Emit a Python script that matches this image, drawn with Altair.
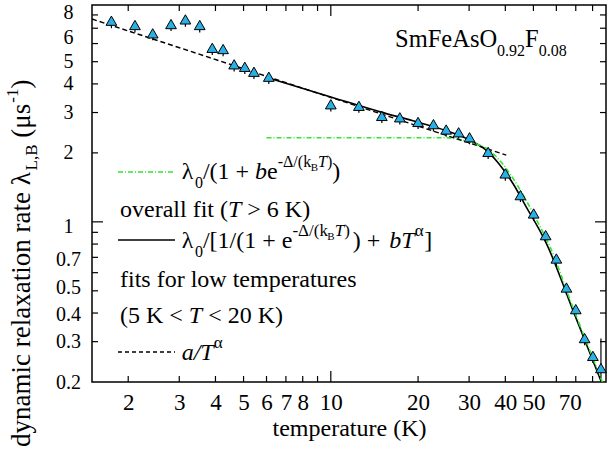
import altair as alt
import pandas as pd

# ---------------- data ----------------
temp = [1.75, 2.11, 2.43, 2.81, 3.15, 3.53, 3.90, 4.25, 4.64, 5.05, 5.43, 6.11,
        10.0, 12.5, 15.0, 17.3, 20.0, 22.6, 25.0, 27.6, 30.1, 34.9, 40.0, 45.1,
        50.1, 55.1, 60.0, 65.0, 70.0, 75.1, 80.2, 85.5]
rate = [7.55, 7.23, 6.65, 7.30, 7.65, 7.23, 5.75, 5.68, 4.87, 4.75, 4.52, 4.30,
        3.26, 3.21, 2.90, 2.86, 2.73, 2.67, 2.53, 2.46, 2.34, 2.02, 1.627, 1.308,
        1.088, 0.875, 0.692, 0.517, 0.416, 0.311, 0.260, 0.230]
err_low = [7.0, 6.7, 6.2, 6.8, 7.1, 6.7, 5.35, 5.28, 4.53, 4.42, 4.2, 4.0,
           3.03, 2.99, 2.70, 2.66, 2.54, 2.48, 2.35, 2.29, 2.18, 1.88, 1.51, 1.22,
           1.01, 0.81, 0.64, 0.48, 0.387, 0.289, 0.242, 0.17]
err_high = [7.55, 7.23, 6.65, 7.30, 7.65, 7.23, 5.75, 5.68, 4.87, 4.75, 4.52, 4.30,
            3.26, 3.21, 2.90, 2.86, 2.73, 2.67, 2.53, 2.46, 2.34, 2.02, 1.627, 1.308,
            1.088, 0.875, 0.692, 0.517, 0.416, 0.311, 0.260, 0.31]

# overall fit (solid)
fit_T = [6.1, 10.0, 14.8, 19.2, 25.0, 30.2, 34.9, 38.3, 42.5, 47.2, 52.5, 55.4, 68.4, 85.8]
fit_L = [4.24, 3.51, 3.02, 2.76, 2.50, 2.27, 2.02, 1.77, 1.47, 1.163, 0.92, 0.805, 0.412, 0.20]
# lambda0/(1 + b e^...) (green dash-dot)
gap_T = [6.0, 20.0, 25.0, 27.6, 31.0, 34.9, 38.6, 42.5, 47.2, 52.8, 56.0, 69.0, 86.5]
gap_L = [2.33, 2.33, 2.33, 2.29, 2.21, 2.07, 1.83, 1.55, 1.24, 0.95, 0.82, 0.412, 0.20]
# a/T^alpha (dashed)
pow_T = [1.5, 40.3]
pow_L = [7.68, 1.956]

x_labels = [2, 3, 4, 5, 6, 7, 8, 10, 20, 30, 40, 50, 70]
y_labels = [0.2, 0.3, 0.4, 0.5, 0.7, 1, 2, 3, 4, 5, 6, 8]
x_minor = [2, 3, 4, 5, 6, 7, 8, 9, 20, 30, 40, 50, 60, 70, 80]
x_major = [10]
y_minor = [0.3, 0.4, 0.5, 0.6, 0.7, 0.8, 0.9, 2, 3, 4, 5, 6, 7, 8]
y_major = [1]

# ---------------- layout ----------------
FONT = "Liberation Serif"
W, H = 514, 377
XS = alt.Scale(type="log", domain=[1.5, 89], nice=False)
YS = alt.Scale(type="log", domain=[0.2, 8.84], nice=False)
BLUE = "#2ab0e4"
GREEN = "#33e633"

pts = pd.DataFrame({"T": temp, "L": rate, "lo": err_low, "hi": err_high})

XAX = alt.Axis(values=x_labels, format="~g", labelFont=FONT, labelFontSize=23,
               labelColor="black", ticks=False, tickSize=0, domain=False, grid=False,
               labelPadding=9, labelOverlap=False, labelFlush=False,
               labelOffset={"condition": [{"test": "datum.value == 70", "value": -6}], "value": 0},
               title="temperature (K)", titleFont=FONT, titleFontSize=24,
               titleFontWeight="normal", titleColor="black", titlePadding=2)
YAX = alt.Axis(values=y_labels, format="~g", labelFont=FONT, labelFontSize=20,
               labelColor="black", ticks=False, tickSize=0, domain=False, grid=False,
               labelPadding=24, labelAlign="center", labelOverlap=False, labelFlush=False,
               labelOffset={"condition": [
                   {"test": "datum.value == 0.5", "value": -3},
                   {"test": "datum.value == 0.4", "value": 1},
                   {"test": "datum.value == 1", "value": 5},
                   {"test": "datum.value == 0.7", "value": 2},
                   {"test": "datum.value == 6", "value": -6},
                   {"test": "datum.value == 8", "value": -2}], "value": 0},
               title="")


def X(field):
    return alt.X(field, scale=XS, axis=XAX, title="temperature (K)")


def Y(field):
    return alt.Y(field, scale=YS, axis=YAX, title="")


errbars = alt.Chart(pts).mark_rule(color="black", strokeWidth=1.2, clip=True).encode(
    x=X("T:Q"), y=Y("lo:Q"), y2="hi:Q",
)

markers = alt.Chart(pts).mark_point(shape="triangle-up", filled=True, fill=BLUE,
                                    stroke="black", strokeWidth=1, size=115,
                                    opacity=1, fillOpacity=1).encode(
    x=X("T:Q"), y=Y("L:Q"),
)


def curve(Ts, Ls, **kw):
    df = pd.DataFrame({"T": Ts, "L": Ls})
    return alt.Chart(df).mark_line(clip=True, **kw).encode(
        x=X("T:Q"), y=Y("L:Q"), order="T:Q",
    )


fit_line = curve(fit_T, fit_L, color="black", strokeWidth=1.6, interpolate="monotone")
gap_line = curve(gap_T, gap_L, color=GREEN, strokeWidth=1.6, strokeDash=[5, 2, 1, 2],
                 interpolate="monotone")
pow_line = curve(pow_T, pow_L, color="black", strokeWidth=1.4, strokeDash=[5, 3])


def ticks_x(vals, length):
    df = pd.DataFrame({"T": vals})
    base = alt.Chart(df).mark_rule(color="black", strokeWidth=1.2)
    bot = base.encode(x=X("T:Q"), y=alt.value(H), y2=alt.value(H - length))
    top = base.encode(x=X("T:Q"), y=alt.value(0), y2=alt.value(length))
    return [bot, top]


def ticks_y(vals, length):
    df = pd.DataFrame({"L": vals})
    base = alt.Chart(df).mark_rule(color="black", strokeWidth=1.2)
    lft = base.encode(y=Y("L:Q"), x=alt.value(0), x2=alt.value(length))
    rgt = base.encode(y=Y("L:Q"), x=alt.value(W), x2=alt.value(W - length))
    return [lft, rgt]


# ---------- rich text helper (Times metrics) ----------
TW = {' ': 250, '(': 333, ')': 333, '+': 564, ',': 250, '-': 333, '.': 250, '/': 278,
      '<': 564, '>': 564, '[': 333, ']': 333,
      'A': 722, 'B': 667, 'F': 556, 'K': 722, 'L': 611, 'O': 722, 'S': 556, 'T': 611,
      'a': 444, 'b': 500, 'c': 444, 'd': 500, 'e': 444, 'f': 333, 'i': 278, 'k': 500,
      'l': 278, 'm': 778, 'n': 500, 'o': 500, 'p': 500, 'r': 333, 's': 389, 't': 278,
      'u': 500, 'v': 500, 'w': 722, 'x': 500, 'y': 500,
      'λ': 550, 'Δ': 612, 'α': 560, 'μ': 576}
TWI = {'T': 556, 'a': 500, 'b': 500, '/': 278}
ONE = pd.DataFrame({"k": [0]})


def text_w(s, size, it):
    tot = 0
    for c in s:
        tot += (TWI.get(c, TW.get(c, 500)) if it else TW.get(c, 500))
    return tot * size / 1000.0


def rich(x, y, segs, angle=0):
    out = []
    pos = 0.0
    for seg in segs:
        s, size, dy = seg[0], seg[1], seg[2]
        it = len(seg) > 3 and seg[3]
        gap = seg[4] if len(seg) > 4 else 0
        pos += gap
        lead = len(s) - len(s.lstrip(' '))
        pos += lead * TW[' '] * size / 1000.0
        body = s.strip(' ')
        if body:
            if angle == 0:
                px, py = x + pos, y + dy
            else:
                px, py = x + dy, y - pos
            out.append(alt.Chart(ONE).mark_text(
                text=body, font=FONT, fontSize=size,
                fontStyle="italic" if it else "normal",
                align="left", baseline="alphabetic", angle=angle, color="black"
            ).encode(x=alt.value(px), y=alt.value(py)))
        pos += text_w(s.lstrip(' '), size, it)
    return out


M, S, SS = 24, 17, 11
texts = []
texts += rich(303, 42, [("SmFeAsO", 24.5, 0), ("0.92", 16, 9), ("F", 24.5, 0), ("0.08", 16, 9)])
texts += rich(89.7, 174, [("λ", M, 0), ("0", 16, 9), ("/(1 + ", M, 0), ("b", M, 0, True),
                          ("e", M, 0), ("-Δ/(k", 16, -12), ("B", SS, -8), ("T", 16, -12, True),
                          (")", 16, -12), (")", M, 0)])
texts += rich(28, 212, [("overall fit (", M, 0), ("T", M, 0, True), (" > 6 K)", M, 0)])
texts += rich(89.7, 243, [("λ", M, 0), ("0", 16, 9), ("/[1/(1 + e", M, 0), ("-Δ/(k", S, -12),
                          ("B", SS, -8), ("T", S, -12, True), (")", S, -12),
                          (") + ", M, 0, False, 3), ("b", M, 0, True, 3), ("T", M, 0, True),
                          ("α", S, -12), ("]", M, 0)])
texts += rich(28, 282, [("fits for low temperatures", M, 0)])
texts += rich(28, 318, [("(5 K < ", M, 0), ("T", M, 0, True), (" < 20 K)", M, 0)])
texts += rich(89.7, 355, [("a/T", M, 0, True), ("α", S, -12)])
# y-axis title, rotated
texts += rich(-62, 442, [("dynamic relaxation rate λ", 27, 0), ("L,B", 17, 7),
                         (" (μs", 27, 0), ("-1", 17, -12), (")", 27, 0)], angle=270)

legend_lines = [
    alt.Chart(ONE).mark_rule(color=GREEN, strokeWidth=1.6, strokeDash=[5, 2, 1, 2]).encode(
        x=alt.value(26), x2=alt.value(83), y=alt.value(167)),
    alt.Chart(ONE).mark_rule(color="black", strokeWidth=1.6).encode(
        x=alt.value(26), x2=alt.value(83), y=alt.value(235)),
    alt.Chart(ONE).mark_rule(color="black", strokeWidth=1.4, strokeDash=[4, 3]).encode(
        x=alt.value(26), x2=alt.value(83), y=alt.value(347)),
]

layers = [errbars, fit_line, gap_line, pow_line, markers]
layers += ticks_x(x_minor, 6) + ticks_x(x_major, 11) + ticks_y(y_minor, 6) + ticks_y(y_major, 11)
layers += legend_lines + texts

chart = alt.layer(*layers).properties(
    width=W, height=H,
    padding={"left": 92, "top": 5, "right": 2, "bottom": 72},
    autosize="none",
    background="white",
).configure_view(stroke="black", strokeWidth=1.5).configure_scale(
    continuousPadding=0
)

chart.save("out.html", embed_options={"renderer": "svg", "actions": False})
